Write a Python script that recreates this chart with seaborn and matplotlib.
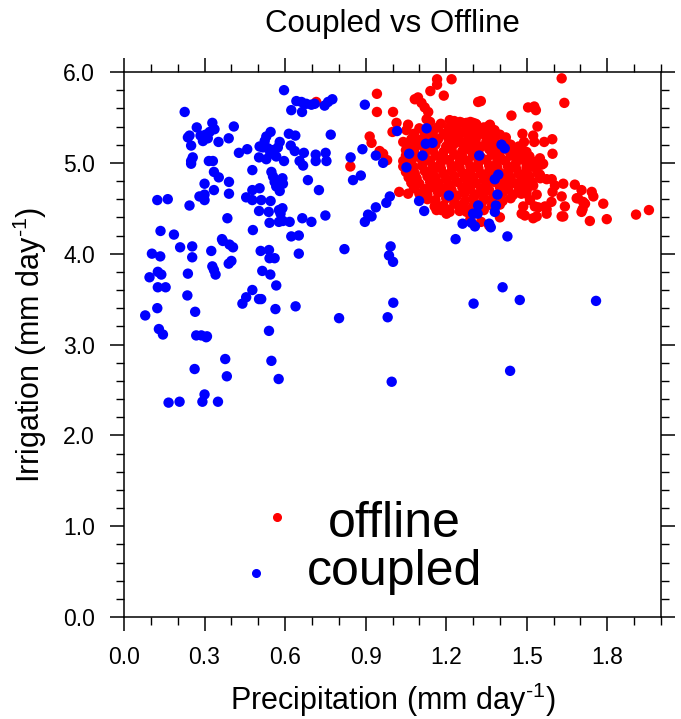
import numpy as np
import pandas as pd
import matplotlib
matplotlib.use("Agg")
import matplotlib.pyplot as plt
from matplotlib.ticker import MultipleLocator, FixedLocator
import seaborn as sns

# ---------------- data ----------------
# offline run: dense core of the cloud
offline_core_x = [
    1.14, 1.18, 1.23, 1.26, 1.29, 1.31, 1.36,
    1.10, 1.14, 1.17, 1.21, 1.24, 1.28, 1.31, 1.34, 1.38,
    1.08, 1.12, 1.15, 1.19, 1.22, 1.26, 1.29, 1.33, 1.36, 1.40,
    1.07, 1.10, 1.14, 1.17, 1.21, 1.24, 1.28, 1.31, 1.35, 1.38, 1.42,
    1.06, 1.09, 1.13, 1.16, 1.20, 1.23, 1.27, 1.30, 1.33, 1.37, 1.40, 1.44, 1.47,
    1.05, 1.08, 1.12, 1.15, 1.19, 1.22, 1.26, 1.29, 1.32, 1.36, 1.39, 1.43, 1.46, 1.49,
    1.05, 1.09, 1.12, 1.16, 1.19, 1.23, 1.26, 1.30, 1.33, 1.37, 1.40, 1.44, 1.47, 1.51,
    1.04, 1.07, 1.11, 1.14, 1.18, 1.21, 1.25, 1.28, 1.32, 1.35, 1.39, 1.42, 1.46, 1.49, 1.53,
    1.04, 1.08, 1.11, 1.15, 1.18, 1.22, 1.25, 1.29, 1.32, 1.36, 1.39, 1.43, 1.46, 1.50, 1.53,
    1.05, 1.08, 1.12, 1.15, 1.19, 1.22, 1.26, 1.29, 1.33, 1.36, 1.40, 1.43, 1.47, 1.50, 1.54,
    1.06, 1.09, 1.13, 1.16, 1.20, 1.23, 1.27, 1.30, 1.34, 1.37, 1.41, 1.44, 1.48, 1.51, 1.55,
    1.07, 1.10, 1.14, 1.17, 1.21, 1.24, 1.28, 1.31, 1.35, 1.38, 1.42, 1.45, 1.49, 1.52,
    1.08, 1.12, 1.15, 1.19, 1.22, 1.26, 1.29, 1.33, 1.36, 1.40, 1.43, 1.47, 1.50,
    1.10, 1.13, 1.17, 1.20, 1.24, 1.27, 1.31, 1.34, 1.38, 1.41, 1.45, 1.48,
    1.13, 1.16, 1.20, 1.23, 1.27, 1.30, 1.34, 1.37, 1.41, 1.44,
    1.16, 1.19, 1.23, 1.26, 1.30, 1.33, 1.37, 1.40,
    1.21, 1.25, 1.29, 1.34,
]
offline_core_y = [
    5.45, 5.43, 5.46, 5.44, 5.45, 5.43, 5.41,
    5.38, 5.37, 5.39, 5.38, 5.36, 5.38, 5.37, 5.39, 5.36,
    5.32, 5.31, 5.33, 5.32, 5.30, 5.33, 5.31, 5.32, 5.30, 5.31,
    5.26, 5.25, 5.27, 5.26, 5.24, 5.27, 5.25, 5.26, 5.24, 5.27, 5.25,
    5.20, 5.19, 5.21, 5.20, 5.18, 5.21, 5.19, 5.20, 5.18, 5.21, 5.19, 5.20, 5.18,
    5.14, 5.13, 5.15, 5.14, 5.12, 5.15, 5.13, 5.14, 5.12, 5.15, 5.13, 5.14, 5.12, 5.13,
    5.08, 5.07, 5.09, 5.08, 5.06, 5.09, 5.07, 5.08, 5.06, 5.09, 5.07, 5.08, 5.06, 5.07,
    5.02, 5.01, 5.03, 5.02, 5.00, 5.03, 5.01, 5.02, 5.00, 5.03, 5.01, 5.02, 5.00, 5.03, 5.01,
    4.96, 4.95, 4.97, 4.96, 4.94, 4.97, 4.95, 4.96, 4.94, 4.97, 4.95, 4.96, 4.94, 4.97, 4.95,
    4.90, 4.89, 4.91, 4.90, 4.88, 4.91, 4.89, 4.90, 4.88, 4.91, 4.89, 4.90, 4.88, 4.91, 4.89,
    4.84, 4.83, 4.85, 4.84, 4.82, 4.85, 4.83, 4.84, 4.82, 4.85, 4.83, 4.84, 4.82, 4.85, 4.83,
    4.78, 4.77, 4.79, 4.78, 4.76, 4.79, 4.77, 4.78, 4.76, 4.79, 4.77, 4.78, 4.76, 4.79,
    4.72, 4.71, 4.73, 4.72, 4.70, 4.73, 4.71, 4.72, 4.70, 4.73, 4.71, 4.72, 4.70,
    4.66, 4.65, 4.67, 4.66, 4.64, 4.67, 4.65, 4.66, 4.64, 4.67, 4.65, 4.66,
    4.60, 4.59, 4.61, 4.60, 4.58, 4.61, 4.59, 4.60, 4.58, 4.61,
    4.54, 4.53, 4.55, 4.54, 4.52, 4.55, 4.53, 4.54,
    4.48, 4.47, 4.49, 4.48,
]

# offline run: scattered points around the core
offline_outer_x = [
    0.716, 0.942, 0.942, 1.002, 1.015, 1.058, 1.052, 1.000, 1.083, 1.108,
    1.095, 1.141, 1.166, 1.166, 1.191, 1.220, 1.133, 1.127, 1.120, 0.915,
    0.922, 0.952, 0.980, 0.965, 0.843, 1.040, 1.071, 1.083, 1.025, 1.058,
    1.077, 1.114, 1.083, 1.164, 1.201, 1.213, 1.226, 1.195, 1.220,
    1.630, 1.640, 1.329, 1.443, 1.505, 1.528, 1.534, 1.540, 1.484, 1.490,
    1.524, 1.528, 1.565, 1.595, 1.596, 1.422, 1.363, 1.344, 1.352, 1.499,
    1.508, 1.549, 1.561, 1.499, 1.512,
    1.549, 1.593, 1.636, 1.679, 1.704, 1.742, 1.748, 1.785, 1.596, 1.630,
    1.642, 1.686, 1.717, 1.708, 1.735, 1.798, 1.907, 1.955, 1.568, 1.537,
    1.481, 1.630, 1.574, 1.530, 1.537, 1.474, 1.499, 1.512, 1.487,
    1.157, 1.182, 1.213, 1.251, 1.276,
    1.223, 1.251, 1.276, 1.300, 1.319, 1.201, 1.232, 1.251,
    1.313, 1.319, 1.443, 1.456,
    1.555, 1.605, 1.574, 1.493, 1.524, 1.592, 1.543, 1.574, 1.524, 1.493,
    1.636, 1.704, 1.691, 1.710,
    1.330, 1.360, 1.290, 1.400,
]
offline_outer_y = [
    5.67, 5.76, 5.56, 5.56, 5.44, 5.42, 5.36, 5.34, 5.70, 5.66,
    5.72, 5.79, 5.92, 5.86, 5.74, 5.92, 5.56, 5.48, 5.61, 5.29,
    5.22, 5.13, 5.03, 5.10, 4.96, 5.23, 5.22, 5.20, 4.68, 4.66,
    4.77, 4.66, 4.88, 4.48, 4.44, 5.47, 5.40, 5.31, 5.27,
    5.93, 5.66, 5.68, 5.52, 5.61, 5.62, 5.58, 5.40, 5.32, 5.23,
    5.30, 5.23, 5.23, 5.26, 5.10, 5.28, 5.42, 5.34, 5.25, 5.12,
    5.07, 5.05, 4.99, 4.94, 4.96,
    4.87, 4.82, 4.77, 4.76, 4.70, 4.68, 4.63, 4.55, 4.68, 4.63,
    4.52, 4.61, 4.55, 4.49, 4.36, 4.38, 4.43, 4.48, 4.52, 4.41,
    4.44, 4.41, 4.44, 4.52, 4.65, 4.74, 4.66, 4.59, 4.52,
    4.52, 4.48, 4.46, 4.50, 4.46,
    5.44, 5.45, 5.44, 5.44, 5.67, 5.31, 5.29, 5.23,
    5.42, 5.33, 5.16, 5.10,
    4.98, 4.75, 4.82, 4.82, 4.75, 4.57, 4.51, 4.49, 4.39, 4.42,
    4.41, 4.46, 4.61, 4.57,
    4.35, 4.31, 4.38, 4.40,
]

# coupled run
coupled_x = [
    0.596, 0.642, 0.661, 0.679, 0.698, 0.710, 0.623, 0.663, 0.226, 0.271,
    0.329, 0.337, 0.238, 0.244, 0.285, 0.304, 0.319, 0.294, 0.312, 0.352,
    0.409, 0.390, 0.250, 0.428, 0.459, 0.256, 0.250, 0.250, 0.316, 0.331,
    0.335, 0.353, 0.300, 0.335, 0.391, 0.391, 0.281, 0.300, 0.300, 0.244,
    0.124, 0.163, 0.385, 0.136, 0.186, 0.365, 0.480,
    0.546, 0.530, 0.524, 0.580, 0.573, 0.555, 0.536, 0.517, 0.505, 0.545,
    0.567, 0.596, 0.530, 0.503, 0.614, 0.638, 0.621, 0.636, 0.670, 0.654,
    0.667, 0.714, 0.714,
    0.478, 0.549, 0.555, 0.561, 0.567, 0.590, 0.592, 0.580, 0.685, 0.726,
    0.455, 0.478, 0.505, 0.478, 0.511, 0.546, 0.503, 0.539, 0.577, 0.590,
    0.583, 0.542, 0.577, 0.592, 0.617, 0.664, 0.698, 0.623, 0.651,
    0.104, 0.135, 0.209, 0.254, 0.254, 0.325, 0.368, 0.393, 0.406, 0.390,
    0.400, 0.509, 0.540, 0.542, 0.561, 0.651, 0.126, 0.139, 0.095, 0.238,
    0.329, 0.335, 0.341, 0.515, 0.545, 0.567, 0.126, 0.155, 0.236, 0.478,
    0.455, 0.441, 0.503, 0.511, 0.564, 0.639, 0.124, 0.079, 0.265, 0.130,
    0.145, 0.269, 0.288, 0.309, 0.306, 0.540, 0.377, 0.549, 0.263, 0.383,
    0.576, 0.300, 0.292, 0.166, 0.207, 0.350,
    0.821, 0.993, 0.987, 1.002, 1.235, 1.428, 1.003, 0.982, 0.801, 1.302,
    1.410, 1.474, 1.438, 0.997, 1.758,
    0.897, 0.747, 0.776, 0.760, 0.770, 0.751, 0.754, 0.750, 0.844, 0.888,
    0.853, 0.882, 0.938, 0.965, 1.017, 1.127, 1.124, 1.149, 1.112, 1.062,
    1.052, 0.990, 0.977, 0.938, 0.909, 0.897, 0.922, 1.099, 1.118, 1.210,
    1.406, 1.418, 1.323, 1.381, 1.394, 1.391, 1.319, 1.385, 1.300, 1.317,
    1.381, 1.261, 1.294, 1.307, 1.360, 1.366,
]
coupled_y = [
    5.80, 5.68, 5.67, 5.65, 5.64, 5.65, 5.58, 5.56, 5.56, 5.39,
    5.44, 5.37, 5.28, 5.30, 5.30, 5.31, 5.34, 5.24, 5.27, 5.23,
    5.40, 5.27, 5.19, 5.11, 5.15, 5.06, 5.02, 4.99, 5.02, 5.02,
    4.90, 4.84, 4.77, 4.70, 4.79, 4.66, 4.63, 4.65, 4.59, 4.53,
    4.59, 4.60, 4.39, 4.25, 4.21, 4.16, 4.26,
    5.34, 5.29, 5.24, 5.23, 5.17, 5.14, 5.16, 5.17, 5.18, 5.10,
    5.07, 5.02, 5.04, 5.06, 5.32, 5.30, 5.19, 5.13, 5.11, 5.02,
    4.97, 5.09, 5.02,
    4.92, 4.90, 4.85, 4.79, 4.74, 4.83, 4.77, 4.69, 4.81, 4.70,
    4.62, 4.70, 4.72, 4.59, 4.59, 4.58, 4.47, 4.46, 4.48, 4.50,
    4.44, 4.34, 4.35, 4.36, 4.35, 4.39, 4.35, 4.19, 4.20,
    4.00, 3.97, 4.07, 4.08, 3.96, 4.03, 4.14, 4.10, 4.07, 3.89,
    3.92, 4.03, 4.04, 3.95, 3.95, 4.00, 3.80, 3.77, 3.74, 3.78,
    3.86, 3.82, 3.77, 3.81, 3.77, 3.65, 3.63, 3.63, 3.54, 3.60,
    3.52, 3.45, 3.50, 3.50, 3.39, 3.42, 3.40, 3.32, 3.36, 3.17,
    3.11, 3.10, 3.10, 3.09, 3.08, 3.15, 2.84, 2.82, 2.73, 2.65,
    2.62, 2.45, 2.37, 2.36, 2.37, 2.37,
    4.05, 4.08, 3.98, 3.91, 4.16, 4.19, 3.46, 3.30, 3.29, 3.45,
    3.63, 3.49, 2.71, 2.59, 3.48,
    5.64, 5.63, 5.70, 5.67, 5.31, 5.11, 5.02, 4.42, 5.06, 5.15,
    4.81, 4.86, 5.08, 5.00, 5.35, 5.38, 5.21, 5.22, 5.08, 5.10,
    4.95, 4.63, 4.56, 4.51, 4.43, 4.35, 4.41, 4.58, 4.47, 4.64,
    5.20, 5.16, 5.08, 4.82, 4.87, 4.65, 4.53, 4.53, 4.44, 4.44,
    4.46, 4.33, 4.34, 4.30, 4.33, 4.29,
]

series_names = ["offline", "coupled"]
series_colors = {"offline": "#ff0000", "coupled": "#0000ff"}
x_ticks = [0.0, 0.3, 0.6, 0.9, 1.2, 1.5, 1.8]
x_ticklabels = ["0.0", "0.3", "0.6", "0.9", "1.2", "1.5", "1.8"]
y_ticks = [0.0, 1.0, 2.0, 3.0, 4.0, 5.0, 6.0]
y_ticklabels = ["0.0", "1.0", "2.0", "3.0", "4.0", "5.0", "6.0"]

# ---------------- build table ----------------
off_x = offline_core_x + offline_outer_x
off_y = offline_core_y + offline_outer_y
df = pd.concat([
    pd.DataFrame({"Precipitation": off_x, "Irrigation": off_y, "run": "offline"}),
    pd.DataFrame({"Precipitation": coupled_x, "Irrigation": coupled_y, "run": "coupled"}),
], ignore_index=True)

# ---------------- style ----------------
sns.set_theme(style="white")
plt.rcParams["font.family"] = ["Liberation Sans", "DejaVu Sans"]
plt.rcParams["mathtext.fontset"] = "custom"
plt.rcParams["mathtext.rm"] = "Liberation Sans"
plt.rcParams["mathtext.it"] = "Liberation Sans"

fig = plt.figure(figsize=(6.81, 7.19), dpi=100)
ax = fig.add_axes([124 / 681, 1 - 617 / 719, 537 / 681, 545 / 719])

sns.scatterplot(data=df, x="Precipitation", y="Irrigation", hue="run",
                hue_order=series_names, palette=series_colors,
                s=56, linewidth=0, legend=False, ax=ax)

ax.set_xlim(0, 2.0)
ax.set_ylim(0, 6.0)
ax.xaxis.set_major_locator(FixedLocator(x_ticks))
ax.set_xticklabels(x_ticklabels)
ax.yaxis.set_major_locator(FixedLocator(y_ticks))
ax.set_yticklabels(y_ticklabels)
ax.xaxis.set_minor_locator(MultipleLocator(0.1))
ax.yaxis.set_minor_locator(MultipleLocator(0.2))

ax.tick_params(which="both", direction="out", top=True, right=True,
               bottom=True, left=True, color="black")
ax.tick_params(which="major", length=10, width=1.1, labelsize=16.5, pad=11,
               labelcolor="black")
ax.tick_params(which="minor", length=5.5, width=1.0)
for sp in ax.spines.values():
    sp.set_color("black")
    sp.set_linewidth(1.1)

ax.set_xlabel(r"Precipitation (mm day$^{\text{-1}}$)", fontsize=22, labelpad=8, color="black")
ax.set_ylabel(r"Irrigation (mm day$^{\text{-1}}$)", fontsize=22, labelpad=10, color="black")
ax.set_title("Coupled vs Offline", fontsize=22.5, pad=29, color="black")

# legend (drawn inside the axes, as in the reference)
ax.plot([0.285], [0.183], "o", color=series_colors["offline"], ms=5.5,
        transform=ax.transAxes, clip_on=False)
ax.text(0.380, 0.147, "offline", fontsize=36, transform=ax.transAxes,
        va="baseline", ha="left", color="black")
ax.plot([0.246], [0.081], "o", color=series_colors["coupled"], ms=5.5,
        transform=ax.transAxes, clip_on=False)
ax.text(0.341, 0.059, "coupled", fontsize=36, transform=ax.transAxes,
        va="baseline", ha="left", color="black")

fig.savefig("out.png", dpi=100)
